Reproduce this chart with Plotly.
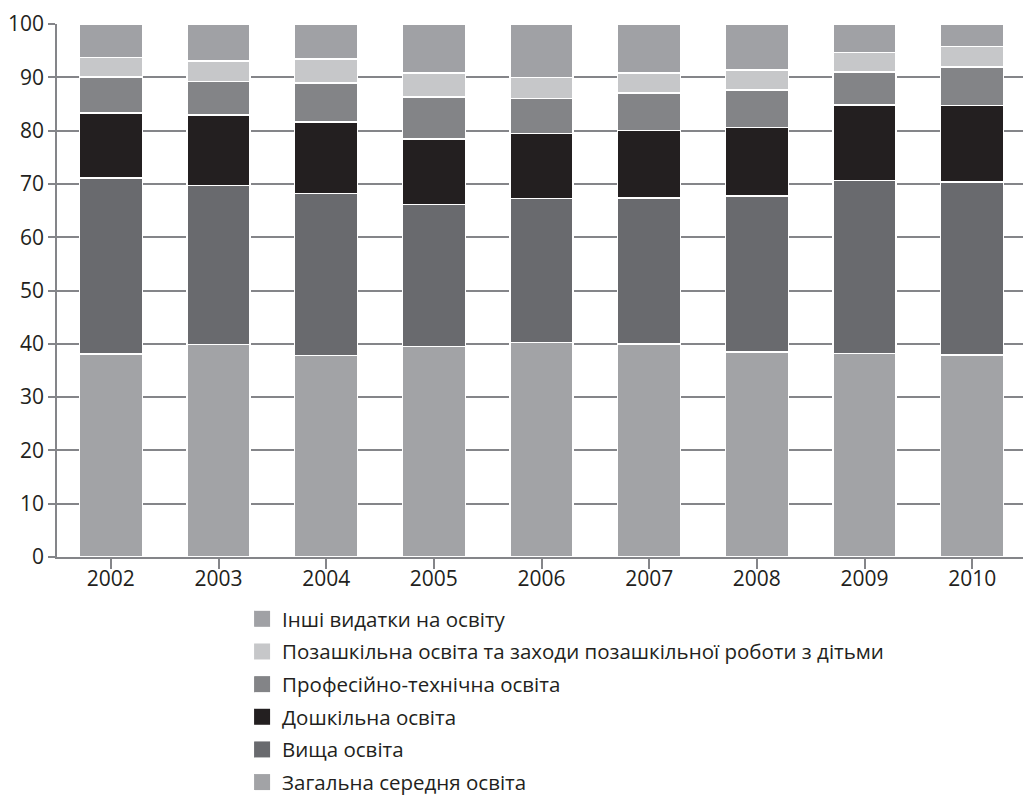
import plotly.graph_objects as go

years = ["2002", "2003", "2004", "2005", "2006", "2007", "2008", "2009", "2010"]

general = [38.1, 39.9, 37.8, 39.5, 40.2, 40.0, 38.5, 38.2, 37.9]
higher = [33.0, 29.8, 30.4, 26.6, 27.1, 27.4, 29.2, 32.4, 32.5]
preschool = [12.2, 13.2, 13.4, 12.3, 12.2, 12.6, 12.9, 14.2, 14.3]
vocational = [6.8, 6.3, 7.3, 7.9, 6.5, 7.1, 7.0, 6.2, 7.2]
extracurricular = [3.6, 3.9, 4.5, 4.5, 4.0, 3.7, 3.8, 3.7, 3.9]
other = [6.3, 6.9, 6.6, 9.2, 10.0, 9.2, 8.6, 5.3, 4.2]

series = [
    ("Загальна середня освіта", general, "#a2a3a6"),
    ("Вища освіта", higher, "#696a6e"),
    ("Дошкільна освіта", preschool, "#231f20"),
    ("Професійно-технічна освіта", vocational, "#838487"),
    ("Позашкільна освіта та заходи позашкільної роботи з дітьми", extracurricular, "#c6c7c9"),
    ("Інші видатки на освіту", other, "#a0a1a5"),
]

yticks = [0, 10, 20, 30, 40, 50, 60, 70, 80, 90, 100]

fig = go.Figure()
# legend entries (top series first), each in its own group so the gap applies
for i, (name, vals, color) in enumerate(reversed(series)):
    fig.add_trace(go.Scatter(
        x=[None], y=[None], mode="markers", name=name,
        marker=dict(symbol="square", size=16, color=color),
        legendgroup="g%d" % i, showlegend=True, hoverinfo="skip",
    ))
# stacked bars
for name, vals, color in series:
    fig.add_trace(go.Bar(
        x=years, y=vals, name=name,
        marker=dict(color=color, line=dict(color="white", width=1.5)),
        showlegend=False,
    ))

axis_col = "#848589"
text_col = "#231f20"
font = "Open Sans"

fig.update_layout(
    barmode="stack",
    bargap=0.415,
    width=1023, height=790,
    margin=dict(l=49, r=5, t=16, b=241, autoexpand=False),
    plot_bgcolor="white", paper_bgcolor="white",
    font=dict(family=font, size=21, color=text_col),
    showlegend=True,
    legend=dict(
        orientation="v", traceorder="grouped",
        x=0.191, xanchor="left", y=-0.0788, yanchor="top",
        font=dict(family=font, size=20.5, color=text_col),
        tracegroupgap=3,
        itemwidth=30,
        bgcolor="rgba(0,0,0,0)",
    ),
    xaxis=dict(
        showline=True, linecolor=axis_col, linewidth=1.5,
        ticks="outside", tickson="boundaries", ticklen=10, tickcolor=axis_col, tickwidth=1.5,
        showgrid=False, ticklabelstandoff=-8,
        tickfont=dict(family=font, size=21, color=text_col),
    ),
    yaxis=dict(
        range=[0, 100], tickvals=yticks,
        showline=True, linecolor=axis_col, linewidth=1.5, mirror=True,
        ticks="outside", ticklen=7, tickcolor=axis_col, tickwidth=1.5,
        showgrid=True, gridcolor=axis_col, gridwidth=2,
        zeroline=False,
        tickfont=dict(family=font, size=21, color=text_col),
    ),
)

fig.write_html("out.html")
